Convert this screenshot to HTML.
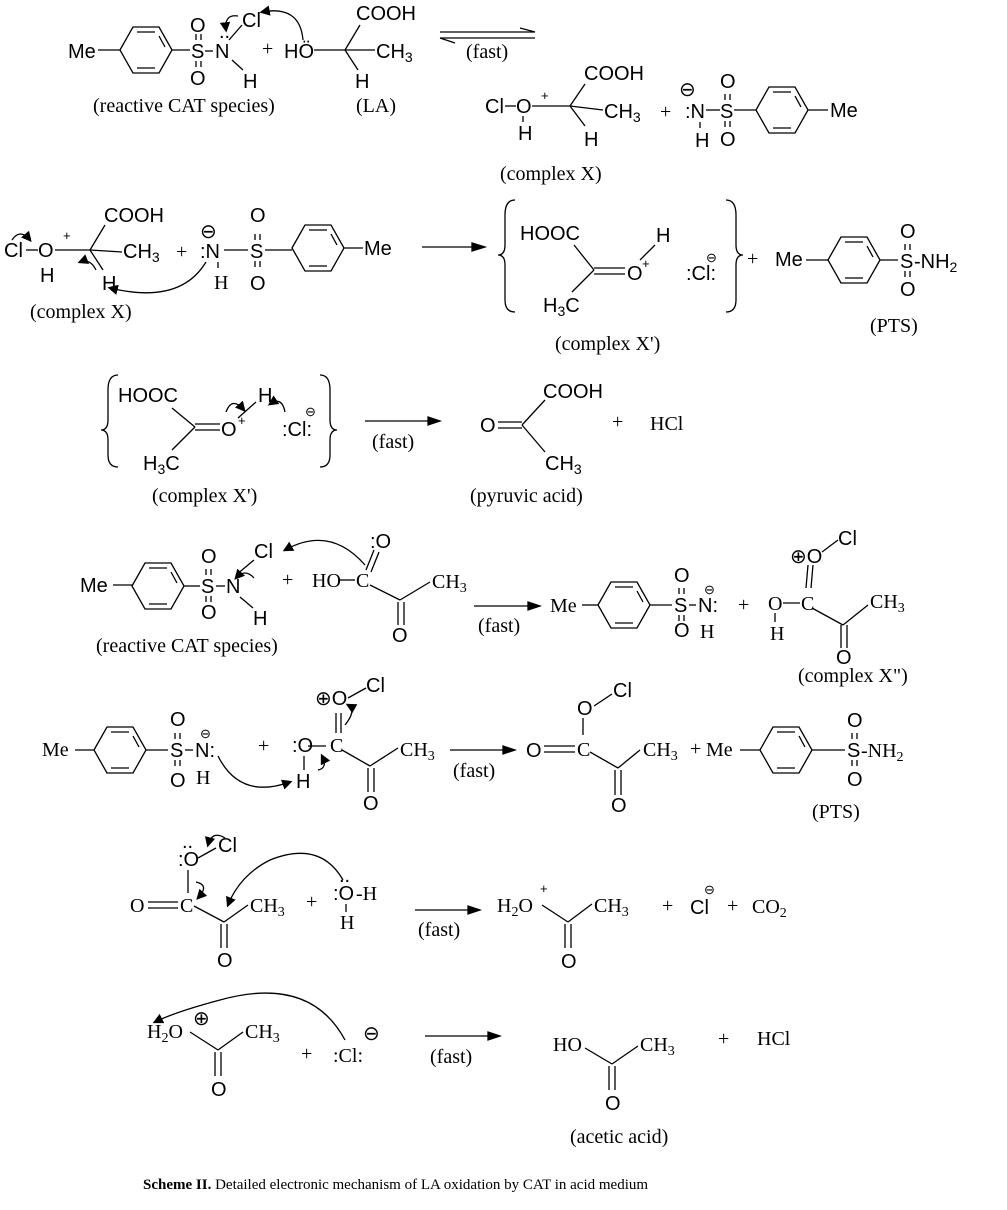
<!DOCTYPE html>
<html><head><meta charset="utf-8"><style>
body{margin:0;background:#fff}
svg{display:block}
.s{font-family:"Liberation Sans",sans-serif;font-size:20px;fill:#000}
.r{font-family:"Liberation Serif",serif;font-size:20px;fill:#000}
.sm{font-size:13px}
line,path,polygon,polyline{stroke:#000;stroke-width:1.3;fill:none}
</style></head><body>
<svg width="1007" height="1210" viewBox="0 0 1007 1210" xmlns="http://www.w3.org/2000/svg">
<defs>
<g id="bz"><polygon points="-26,0 -13,-23 13,-23 26,0 13,23 -13,23"/><line x1="-9" y1="-18" x2="9" y2="-18"/><line x1="-9" y1="18" x2="9" y2="18"/><line x1="19" y1="-3" x2="13" y2="-14"/></g>
<g id="sd"><line x1="4" y1="-24" x2="4" y2="-18"/><line x1="9" y1="-24" x2="9" y2="-18"/><line x1="4" y1="3" x2="4" y2="9"/><line x1="9" y1="3" x2="9" y2="9"/></g>
<marker id="ah" markerWidth="8" markerHeight="8" refX="6" refY="4" orient="auto"><path d="M0,0 L8,4 L0,8 z" style="fill:#000;stroke:none"/></marker>
</defs>
<rect width="1007" height="1210" fill="#fff"/>

<!-- Row 1 -->
<text class="s" x="68" y="58">Me</text><line x1="98" y1="50" x2="120" y2="50"/>
<use href="#bz" x="146" y="50"/><line x1="172" y1="50" x2="190" y2="50"/>
<text class="s" x="191" y="58">S</text><text class="s" x="190" y="32">O</text><text class="s" x="190" y="85">O</text>
<use href="#sd" x="192" y="58"/>
<line x1="205" y1="51" x2="213" y2="51"/><text class="s" x="215" y="58">N</text><text class="s" x="219" y="38">..</text>
<line x1="229" y1="40" x2="242" y2="25"/><text class="s" x="242" y="27">Cl</text>
<line x1="232" y1="60" x2="243" y2="70"/><text class="s" x="243" y="88">H</text>
<path d="M238,16 Q224,14 226,30" marker-end="url(#ah)"/>
<path d="M303,40 Q300,5 262,12" marker-end="url(#ah)"/>
<text class="r" x="93" y="112">(reactive CAT species)</text>
<text class="r" x="262" y="55">+</text>
<text class="s" x="284" y="58">HÖ</text><line x1="314" y1="50" x2="345" y2="50"/>
<line x1="345" y1="50" x2="360" y2="25"/><text class="s" x="356" y="20">COOH</text>
<line x1="345" y1="50" x2="375" y2="50"/><text class="s" x="376" y="58">CH<tspan font-size="14" dy="4">3</tspan></text>
<line x1="345" y1="50" x2="358" y2="70"/><text class="s" x="355" y="88">H</text>
<text class="r" x="356" y="112">(LA)</text>
<line x1="440" y1="32" x2="535" y2="32"/><path d="M520,28 L535,32" /><line x1="440" y1="38" x2="535" y2="38"/><path d="M440,38 L455,43"/>
<text class="r" x="466" y="58">(fast)</text>
<text class="s" x="485" y="113">Cl</text><line x1="505" y1="106" x2="516" y2="106"/><text class="s" x="516" y="113">O</text><text class="s sm" x="541" y="100">+</text>
<line x1="523" y1="116" x2="523" y2="122"/><text class="s" x="518" y="140">H</text>
<line x1="532" y1="106" x2="570" y2="106"/><line x1="570" y1="106" x2="585" y2="84"/><text class="s" x="584" y="80">COOH</text>
<line x1="570" y1="106" x2="603" y2="110"/><text class="s" x="604" y="118">CH<tspan font-size="14" dy="4">3</tspan></text>
<line x1="570" y1="106" x2="585" y2="126"/><text class="s" x="584" y="146">H</text>
<text class="r" x="660" y="118">+</text>
<text class="s" x="679" y="96">⊖</text><text class="s" x="685" y="118">:N</text><line x1="700" y1="122" x2="700" y2="128"/><text class="s" x="695" y="147">H</text>
<line x1="706" y1="110" x2="720" y2="110"/><text class="s" x="720" y="118">S</text><text class="s" x="720" y="88">O</text><text class="s" x="720" y="146">O</text>
<use href="#sd" x="721" y="118"/>
<line x1="734" y1="110" x2="756" y2="110"/><use href="#bz" x="782" y="110"/><line x1="808" y1="110" x2="828" y2="110"/>
<text class="s" x="830" y="117">Me</text>
<text class="r" x="500" y="180">(complex X)</text>

<!-- Row 2 -->
<text class="s" x="4" y="257">Cl</text><line x1="26" y1="250" x2="38" y2="250"/><text class="s" x="38" y="257">O</text><text class="s sm" x="63" y="240">+</text>
<text class="s" x="40" y="282">H</text>
<path d="M12,240 Q20,228 30,240" marker-end="url(#ah)"/>
<line x1="55" y1="250" x2="90" y2="250"/><line x1="90" y1="250" x2="105" y2="225"/><text class="s" x="104" y="222">COOH</text>
<line x1="90" y1="250" x2="122" y2="252"/><text class="s" x="123" y="258">CH<tspan font-size="14" dy="4">3</tspan></text>
<line x1="90" y1="250" x2="103" y2="270"/><text class="s" x="102" y="290">H</text>
<path d="M96,270 Q90,258 80,262" marker-end="url(#ah)"/>
<path d="M206,262 Q180,305 110,288" marker-end="url(#ah)"/>
<text class="r" x="176" y="258">+</text>
<text class="s" x="200" y="238">⊖</text><text class="s" x="200" y="258">:N</text><line x1="218" y1="262" x2="218" y2="268"/><text class="r" x="214" y="289" font-size="14">H</text>
<line x1="224" y1="250" x2="248" y2="250"/><text class="s" x="250" y="258">S</text><text class="s" x="250" y="222">O</text><text class="s" x="250" y="290">O</text>
<use href="#sd" x="251" y="258"/>
<line x1="265" y1="250" x2="292" y2="250"/><use href="#bz" x="318" y="248"/><line x1="344" y1="248" x2="363" y2="248"/>
<text class="s" x="364" y="255">Me</text>
<text class="r" x="30" y="318">(complex X)</text>
<line x1="422" y1="247" x2="478" y2="247"/><path d="M472,243 L485,247 L472,251 z" style="fill:#000"/>
<path d="M515,200 Q505,200 505,215 L505,245 Q505,255 498,255 Q505,255 505,265 L505,300 Q505,312 515,312"/>
<text class="s" x="520" y="240">HOOC</text><line x1="574" y1="245" x2="594" y2="270"/>
<line x1="594" y1="268" x2="625" y2="268"/><line x1="594" y1="274" x2="625" y2="274"/><text class="s" x="627" y="280">O</text><text class="s sm" x="642" y="268">+</text>
<line x1="594" y1="270" x2="572" y2="292"/><text class="s" x="543" y="312">H<tspan font-size="14" dy="4">3</tspan><tspan dy="-4">C</tspan></text>
<line x1="640" y1="260" x2="655" y2="245"/><text class="s" x="656" y="242">H</text>
<text class="s" x="686" y="280">:Cl:</text><text class="s sm" x="706" y="262">⊖</text>
<path d="M726,200 Q736,200 736,215 L736,245 Q736,255 743,255 Q736,255 736,265 L736,300 Q736,312 726,312"/>
<text class="r" x="747" y="265">+</text>
<text class="s" x="775" y="266">Me</text><line x1="806" y1="260" x2="828" y2="260"/><use href="#bz" x="854" y="260"/><line x1="880" y1="260" x2="898" y2="260"/>
<text class="s" x="900" y="268">S</text><text class="s" x="900" y="238">O</text><text class="s" x="900" y="296">O</text>
<use href="#sd" x="901" y="268"/>
<text class="s" x="914" y="268">-NH<tspan font-size="14" dy="4">2</tspan></text>
<text class="r" x="555" y="350">(complex X')</text><text class="r" x="870" y="332">(PTS)</text>

<!-- Row 3 -->
<path d="M118,375 Q108,375 108,390 L108,420 Q108,430 101,430 Q108,430 108,440 L108,455 Q108,467 118,467"/>
<text class="s" x="118" y="402">HOOC</text><line x1="172" y1="408" x2="195" y2="427"/>
<line x1="195" y1="424" x2="220" y2="424"/><line x1="195" y1="430" x2="220" y2="430"/><text class="s" x="221" y="436">O</text><text class="s sm" x="238" y="425">+</text>
<line x1="195" y1="427" x2="172" y2="450"/><text class="s" x="143" y="470">H<tspan font-size="14" dy="4">3</tspan><tspan dy="-4">C</tspan></text>
<line x1="238" y1="418" x2="256" y2="402"/><text class="s" x="258" y="402">H</text>
<path d="M226,412 Q232,396 244,410" marker-end="url(#ah)"/><path d="M285,412 Q282,396 270,404" marker-end="url(#ah)"/>
<text class="s" x="282" y="436">:Cl:</text><text class="s sm" x="305" y="416">⊖</text>
<path d="M320,375 Q330,375 330,390 L330,420 Q330,430 337,430 Q330,430 330,440 L330,455 Q330,467 320,467"/>
<line x1="365" y1="421" x2="433" y2="421"/><path d="M428,417 L440,421 L428,425 z" style="fill:#000"/>
<text class="r" x="372" y="448">(fast)</text>
<text class="s" x="480" y="432">O</text><line x1="498" y1="422" x2="522" y2="422"/><line x1="498" y1="428" x2="522" y2="428"/>
<line x1="522" y1="425" x2="545" y2="400"/><text class="s" x="543" y="398">COOH</text>
<line x1="522" y1="425" x2="545" y2="452"/><text class="s" x="545" y="470">CH<tspan font-size="14" dy="4">3</tspan></text>
<text class="r" x="612" y="428">+</text><text class="r" x="650" y="430">HCl</text>
<text class="r" x="152" y="502">(complex X')</text><text class="r" x="470" y="502">(pyruvic acid)</text>

<!-- Row 4 -->
<text class="s" x="80" y="592">Me</text><line x1="113" y1="585" x2="133" y2="585"/><use href="#bz" x="158" y="586"/><line x1="184" y1="586" x2="200" y2="586"/>
<text class="s" x="201" y="593">S</text><text class="s" x="201" y="563">O</text><text class="s" x="201" y="619">O</text>
<use href="#sd" x="202" y="593"/>
<line x1="216" y1="586" x2="225" y2="586"/><text class="s" x="226" y="593">N</text><line x1="236" y1="575" x2="254" y2="560"/><text class="s" x="254" y="558">Cl</text>
<line x1="240" y1="597" x2="253" y2="608"/><text class="s" x="253" y="625">H</text>
<path d="M254,578 Q245,568 236,578" marker-end="url(#ah)"/>
<path d="M365,565 Q330,525 285,550" marker-end="url(#ah)"/>
<text class="r" x="96" y="652">(reactive CAT species)</text>
<text class="r" x="282" y="586">+</text>
<text class="r" x="312" y="587">HO</text><line x1="339" y1="580" x2="355" y2="580"/><text class="r" x="356" y="587">C</text>
<line x1="366" y1="570" x2="374" y2="550"/><line x1="371" y1="572" x2="379" y2="552"/><text class="s" x="370" y="548">:O</text>
<line x1="370" y1="585" x2="400" y2="600"/><line x1="400" y1="600" x2="430" y2="582"/><text class="r" x="432" y="588">CH<tspan font-size="14" dy="4">3</tspan></text>
<line x1="398" y1="602" x2="398" y2="625"/><line x1="404" y1="602" x2="404" y2="625"/><text class="s" x="392" y="642">O</text>
<line x1="474" y1="606" x2="533" y2="606"/><path d="M528,602 L540,606 L528,610 z" style="fill:#000"/>
<text class="r" x="478" y="632">(fast)</text>
<text class="r" x="550" y="612">Me</text><line x1="582" y1="605" x2="598" y2="605"/><use href="#bz" x="624" y="605"/><line x1="650" y1="605" x2="672" y2="605"/>
<text class="s" x="674" y="612">S</text><text class="s" x="674" y="582">O</text><text class="s" x="674" y="637">O</text>
<use href="#sd" x="675" y="612"/>
<line x1="689" y1="605" x2="696" y2="605"/><text class="s" x="698" y="612">N:</text><text class="s sm" x="704" y="594">⊖</text><text class="r" x="700" y="638">H</text>
<text class="r" x="738" y="611">+</text>
<text class="r" x="768" y="610">O</text><line x1="783" y1="603" x2="800" y2="603"/><text class="r" x="801" y="610">C</text><text class="r" x="770" y="640">H</text><line x1="775" y1="613" x2="775" y2="622"/>
<line x1="806" y1="588" x2="808" y2="565"/><line x1="811" y1="588" x2="813" y2="565"/><text class="s" x="790" y="563">⊕O</text>
<line x1="822" y1="552" x2="838" y2="540"/><text class="s" x="838" y="545">Cl</text>
<line x1="812" y1="608" x2="843" y2="625"/><line x1="843" y1="625" x2="868" y2="605"/><text class="r" x="870" y="608">CH<tspan font-size="14" dy="4">3</tspan></text>
<line x1="841" y1="625" x2="841" y2="648"/><line x1="847" y1="625" x2="847" y2="648"/><text class="s" x="836" y="664">O</text>
<text class="r" x="798" y="682">(complex X")</text>

<!-- Row 5 -->
<text class="r" x="42" y="756">Me</text><line x1="75" y1="750" x2="94" y2="750"/><use href="#bz" x="120" y="750"/><line x1="146" y1="750" x2="168" y2="750"/>
<text class="s" x="170" y="757">S</text><text class="s" x="170" y="726">O</text><text class="s" x="170" y="787">O</text>
<use href="#sd" x="171" y="757"/>
<line x1="185" y1="750" x2="193" y2="750"/><text class="s" x="195" y="757">N:</text><text class="s sm" x="200" y="738">⊖</text><text class="r" x="196" y="784">H</text>
<path d="M218,756 Q240,800 290,782" marker-end="url(#ah)"/>
<text class="r" x="258" y="752">+</text>
<text class="s" x="292" y="752">:O</text><line x1="308" y1="746" x2="326" y2="746"/><text class="r" x="330" y="752">C</text>
<line x1="304" y1="756" x2="304" y2="770"/><text class="s" x="296" y="788">H</text>
<path d="M318,770 Q328,768 322,756" marker-end="url(#ah)"/>
<path d="M345,725 Q357,710 348,705" marker-end="url(#ah)"/>
<line x1="336" y1="733" x2="336" y2="713"/><line x1="341" y1="733" x2="341" y2="713"/><text class="s" x="315" y="705">⊕O</text>
<line x1="348" y1="698" x2="366" y2="688"/><text class="s" x="366" y="692">Cl</text>
<line x1="342" y1="750" x2="370" y2="766"/><line x1="370" y1="766" x2="398" y2="748"/><text class="r" x="400" y="756">CH<tspan font-size="14" dy="4">3</tspan></text>
<line x1="368" y1="768" x2="368" y2="792"/><line x1="374" y1="768" x2="374" y2="792"/><text class="s" x="363" y="810">O</text>
<line x1="450" y1="750" x2="508" y2="750"/><path d="M503,746 L515,750 L503,754 z" style="fill:#000"/>
<text class="r" x="453" y="777">(fast)</text>
<text class="s" x="526" y="757">O</text><line x1="544" y1="746" x2="575" y2="746"/><line x1="544" y1="752" x2="575" y2="752"/><text class="r" x="577" y="756">C</text>
<line x1="583" y1="735" x2="583" y2="718"/><text class="s" x="577" y="715">O</text><line x1="594" y1="706" x2="612" y2="694"/><text class="s" x="613" y="697">Cl</text>
<line x1="590" y1="752" x2="618" y2="768"/><line x1="618" y1="768" x2="640" y2="750"/><text class="r" x="643" y="756">CH<tspan font-size="14" dy="4">3</tspan></text>
<line x1="615" y1="770" x2="615" y2="795"/><line x1="621" y1="770" x2="621" y2="795"/><text class="s" x="611" y="812">O</text>
<text class="r" x="690" y="755">+</text><text class="r" x="706" y="756">Me</text><line x1="740" y1="750" x2="760" y2="750"/><use href="#bz" x="786" y="750"/><line x1="812" y1="750" x2="845" y2="750"/>
<text class="s" x="847" y="757">S</text><text class="s" x="847" y="727">O</text><text class="s" x="847" y="786">O</text>
<use href="#sd" x="848" y="757"/>
<text class="r" x="861" y="757">-NH<tspan font-size="14" dy="4">2</tspan></text>
<text class="r" x="812" y="818" font-size="14">(PTS)</text>

<!-- Row 6 -->
<text class="s" x="178" y="866">:O</text><text class="s" x="182" y="848">..</text><line x1="198" y1="858" x2="216" y2="848"/><text class="s" x="218" y="852">Cl</text>
<path d="M225,838 Q212,830 208,845" marker-end="url(#ah)"/>
<line x1="188" y1="870" x2="188" y2="893"/>
<path d="M196,882 Q210,885 198,898" marker-end="url(#ah)"/>
<text class="r" x="130" y="912">O</text><line x1="148" y1="902" x2="178" y2="902"/><line x1="148" y1="908" x2="178" y2="908"/><text class="r" x="180" y="912">C</text>
<line x1="194" y1="906" x2="224" y2="922"/><line x1="224" y1="922" x2="248" y2="905"/><text class="r" x="250" y="912">CH<tspan font-size="14" dy="4">3</tspan></text>
<line x1="221" y1="924" x2="221" y2="948"/><line x1="227" y1="924" x2="227" y2="948"/><text class="s" x="217" y="967">O</text>
<path d="M343,880 Q320,840 270,860 Q240,875 228,905" marker-end="url(#ah)"/>
<text class="r" x="306" y="908">+</text>
<text class="s" x="333" y="900">:O</text><text class="s" x="339" y="882">..</text><text class="r" x="356" y="900">-H</text><line x1="346" y1="904" x2="346" y2="912"/><text class="r" x="340" y="929">H</text>
<line x1="415" y1="910" x2="473" y2="910"/><path d="M468,906 L480,910 L468,914 z" style="fill:#000"/>
<text class="r" x="418" y="936">(fast)</text>
<text class="r" x="497" y="912">H<tspan font-size="14" dy="4">2</tspan><tspan dy="-4">O</tspan></text><text class="s sm" x="540" y="893">+</text>
<line x1="542" y1="905" x2="568" y2="922"/><line x1="568" y1="922" x2="592" y2="904"/><text class="r" x="594" y="912">CH<tspan font-size="14" dy="4">3</tspan></text>
<line x1="565" y1="924" x2="565" y2="948"/><line x1="571" y1="924" x2="571" y2="948"/><text class="s" x="561" y="968">O</text>
<text class="r" x="662" y="912">+</text><text class="s" x="690" y="914" font-size="16">Cl</text><text class="s sm" x="704" y="894">⊖</text>
<text class="r" x="727" y="912">+</text><text class="r" x="752" y="913">CO<tspan font-size="14" dy="4">2</tspan></text>

<!-- Row 7 -->
<text class="r" x="147" y="1038">H<tspan font-size="14" dy="4">2</tspan><tspan dy="-4">O</tspan></text><text class="s" x="193" y="1025" font-size="16">⊕</text>
<path d="M345,1040 Q310,975 220,1000 Q175,1012 155,1022" marker-end="url(#ah)"/>
<line x1="190" y1="1032" x2="218" y2="1050"/><line x1="218" y1="1050" x2="243" y2="1032"/><text class="r" x="245" y="1038">CH<tspan font-size="14" dy="4">3</tspan></text>
<line x1="215" y1="1052" x2="215" y2="1076"/><line x1="221" y1="1052" x2="221" y2="1076"/><text class="s" x="211" y="1096">O</text>
<text class="r" x="301" y="1060">+</text><text class="r" x="333" y="1062">:Cl:</text><text class="s" x="363" y="1040" font-size="16">⊖</text>
<line x1="425" y1="1036" x2="493" y2="1036"/><path d="M488,1032 L500,1036 L488,1040 z" style="fill:#000"/>
<text class="r" x="430" y="1063">(fast)</text>
<text class="r" x="553" y="1051">HO</text><line x1="585" y1="1048" x2="612" y2="1064"/><line x1="612" y1="1064" x2="638" y2="1046"/><text class="r" x="640" y="1051">CH<tspan font-size="14" dy="4">3</tspan></text>
<line x1="609" y1="1066" x2="609" y2="1090"/><line x1="615" y1="1066" x2="615" y2="1090"/><text class="s" x="605" y="1110">O</text>
<text class="r" x="718" y="1045">+</text><text class="r" x="757" y="1045">HCl</text>
<text class="r" x="570" y="1143">(acetic acid)</text>

<text x="143" y="1189" style="font-family:'Liberation Serif',serif;font-size:15px"><tspan font-weight="bold">Scheme II.</tspan>  Detailed electronic mechanism of LA oxidation by CAT in acid medium</text>
</svg>
</body></html>
